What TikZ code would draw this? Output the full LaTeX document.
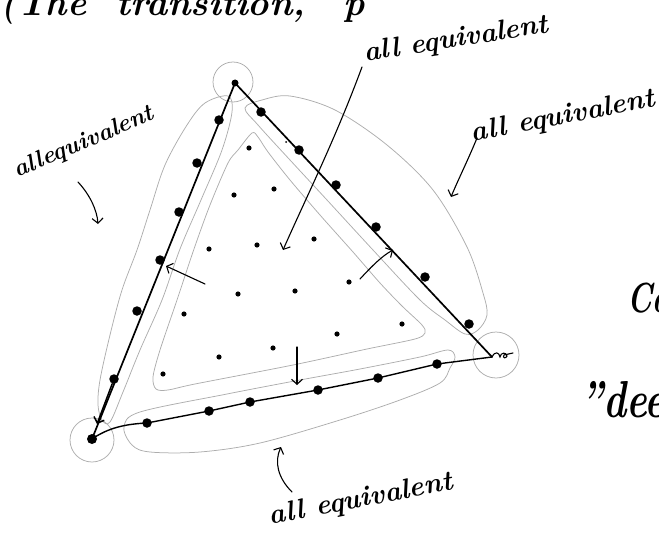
\documentclass[tikz,border=0pt]{standalone}
\usetikzlibrary{arrows.meta}
\begin{document}
\begin{tikzpicture}[x=1pt,y=-1pt,
  edgeline/.style={line width=1.7pt, line cap=round, line join=round},
  bedgeline/.style={line width=1.4pt, line cap=round, line join=round},
  edot/.style={circle, fill=black, inner sep=0pt, minimum size=9.5pt},
  idot/.style={circle, fill=black, inner sep=0pt, minimum size=5.2pt},
  tdot/.style={circle, fill=black, inner sep=0pt, minimum size=2pt},
  pencil/.style={draw=black!32, line width=0.75pt},
  harrow/.style={line width=1.1pt, line cap=round, -{Straight Barb[length=5pt,width=11pt]}},
  hand/.style={inner sep=0pt, font=\fontsize{28}{32}\selectfont\bfseries\itshape},
]
\useasboundingbox (0,0) rectangle (659,551);

% ---------- header text (cut off by the page edge)
\node[anchor=base west, inner sep=0pt, font=\fontsize{36}{40}\selectfont\bfseries\itshape] (title) at (0,16)
  {(The\hspace{30pt}transition,\hspace{38pt}p};

% ---------- vertices
\coordinate (A) at (235,83);
\coordinate (B) at (92,439);
\coordinate (C) at (492,357);

% ---------- pencil outlines
\draw[pencil] (233,82) circle[radius=20];
\draw[pencil] (92,440) circle[radius=22];
\draw[pencil] (496,355) circle[radius=23];

% left-edge loop
\draw[pencil] plot[smooth cycle, tension=0.55] coordinates {
  (228,96) (205,103) (187,125) (165,165) (150,210) (137,250) (122,290)
  (110,335) (100,380) (98,405) (102,420) (110,422)
  (123,392) (140,350) (162,300) (180,249) (201,200) (222,150) (232,112)};

% right-edge loop
\draw[pencil] plot[smooth cycle, tension=0.55] coordinates {
  (245,108) (262,100) (290,96) (335,110) (387,145) (433,190) (467,247)
  (483,293) (487,315) (478,330) (465,334)
  (445,320) (420,300) (373,250) (327,200) (290,160) (258,125)};

% bottom-edge loop
\draw[pencil] plot[smooth cycle, tension=0.55] coordinates {
  (124,427) (140,412) (227,394) (300,380) (360,369) (420,357) (448,350)
  (455,357) (450,368) (440,383) (400,400) (340,420) (260,443) (200,452)
  (150,452) (132,445)};

% inner (interior) loop
\draw[pencil] plot[smooth cycle, tension=0.5] coordinates {
  (252,133) (238,150) (228,163) (210,205) (194,249) (177,300) (160,350)
  (153,377) (156,389) (168,390) (195,384) (293,365) (367,349) (415,339)
  (425,333) (422,325) (402,306) (380,283) (353,252) (320,215) (290,180)
  (268,152) (258,137)};

% ---------- dots on the left edge
\node[edot] (L1) at (219,120) {};
\node[edot] (L2) at (197,163) {};
\node[edot] (L3) at (179,212) {};
\node[edot] (L4) at (160,260) {};
\node[edot] (L5) at (137,311) {};
\node[edot] (L6) at (114,379) {};
% ---------- dots on the right edge
\node[edot] (R1) at (261,112) {};
\node[edot] (R2) at (299,150) {};
\node[edot] (R3) at (336,185) {};
\node[edot] (R4) at (376,227) {};
\node[edot] (R5) at (425,277) {};
\node[edot] (R6) at (469,324) {};
% ---------- dots on the bottom edge
\node[edot] (D1) at (147,423) {};
\node[edot] (D2) at (209,411) {};
\node[edot] (D3) at (250,402) {};
\node[edot] (D4) at (318,390) {};
\node[edot] (D5) at (378,378) {};
\node[edot] (D6) at (437,364) {};
% ---------- vertex blobs
\node[edot, minimum size=7pt] (Adot) at (A) {};
\node[edot, minimum size=10pt] (Bdot) at (B) {};

% ---------- interior dots
\node[idot] (I1) at (249,148) {};
\node[idot] (I2) at (234,195) {};
\node[idot] (I3) at (274,189) {};
\node[idot] (I4) at (209,249) {};
\node[idot] (I5) at (257,245) {};
\node[idot] (I6) at (314,239) {};
\node[idot] (I7) at (349,282) {};
\node[idot] (I8) at (295,291) {};
\node[idot] (I9) at (238,294) {};
\node[idot] (I10) at (184,314) {};
\node[idot] (I11) at (402,324) {};
\node[idot] (I12) at (337,334) {};
\node[idot] (I13) at (273,348) {};
\node[idot] (I14) at (219,357) {};
\node[idot] (I15) at (163,374) {};
\node[tdot] (I16) at (286,142) {};

% ---------- triangle edges
\draw[edgeline] (A) -- (B);
\draw[edgeline] (A) -- (C);
\draw[bedgeline] (B) .. controls (108,428) and (125,424) .. (D1.center)
  -- (D2.center) -- (D3.center) -- (D4.center) -- (D5.center) -- (D6.center) -- (C);
\coordinate (Cend) at (513,353);
\draw[line width=1.1pt, line cap=round] (C) .. controls (495,351) and (499,352) .. (500,357)
  .. controls (501,352) and (506,352) .. (507,356)
  .. controls (506,359) and (502,358) .. (504,355) -- (Cend);

% arrow tip on the left edge near B
\coordinate (Ltip) at (97,424);
\draw[harrow, line width=1.5pt] (L6) -- (Ltip);

% ---------- labels
\node[hand, rotate=23, font=\fontsize{24}{28}\selectfont\bfseries\itshape] (labL) at (84,143) {allequivalent};
\node[hand, rotate=9] (labT) at (456,40) {all equivalent};
\node[hand, rotate=11] (labR) at (563,117) {all equivalent};
\node[hand, rotate=11] (labB) at (361,500) {all equivalent};
\node[anchor=base west, inner sep=0pt, font=\fontsize{42}{46}\selectfont\bfseries\itshape] (ca) at (627,312) {\scalebox{0.72}[1]{Ca}};
\node[anchor=base west, inner sep=0pt, font=\fontsize{52}{56}\selectfont\bfseries\itshape] (dee) at (580,417) {\scalebox{0.75}[1]{''dee}};

% ---------- arrows from labels
\coordinate (aT0) at (362,67);   \coordinate (aT1) at (283,250);
\draw[harrow] (aT0) .. controls (335,140) and (305,200) .. (aT1);
\coordinate (aL0) at (78,182);   \coordinate (aL1) at (98,224);
\draw[harrow] (aL0) .. controls (90,195) and (97,210) .. (aL1);
\coordinate (aR0) at (477,138);  \coordinate (aR1) at (451,197);
\draw[harrow] (aR0) .. controls (468,160) and (458,180) .. (aR1);
\coordinate (aB0) at (292,492);  \coordinate (aB1) at (281,447);
\draw[harrow] (aB0) .. controls (278,478) and (274,462) .. (aB1);

% ---------- arrows inside the triangle
\coordinate (in1a) at (205,284); \coordinate (in1b) at (166,266);
\draw[harrow] (in1a) -- (in1b);
\coordinate (in2a) at (360,279); \coordinate (in2b) at (393,250);
\draw[harrow] (in2a) .. controls (372,266) and (382,256) .. (in2b);
\coordinate (in3a) at (297,347); \coordinate (in3b) at (297,385);
\draw[harrow] (in3a) -- (in3b);
\end{tikzpicture}
\end{document}
